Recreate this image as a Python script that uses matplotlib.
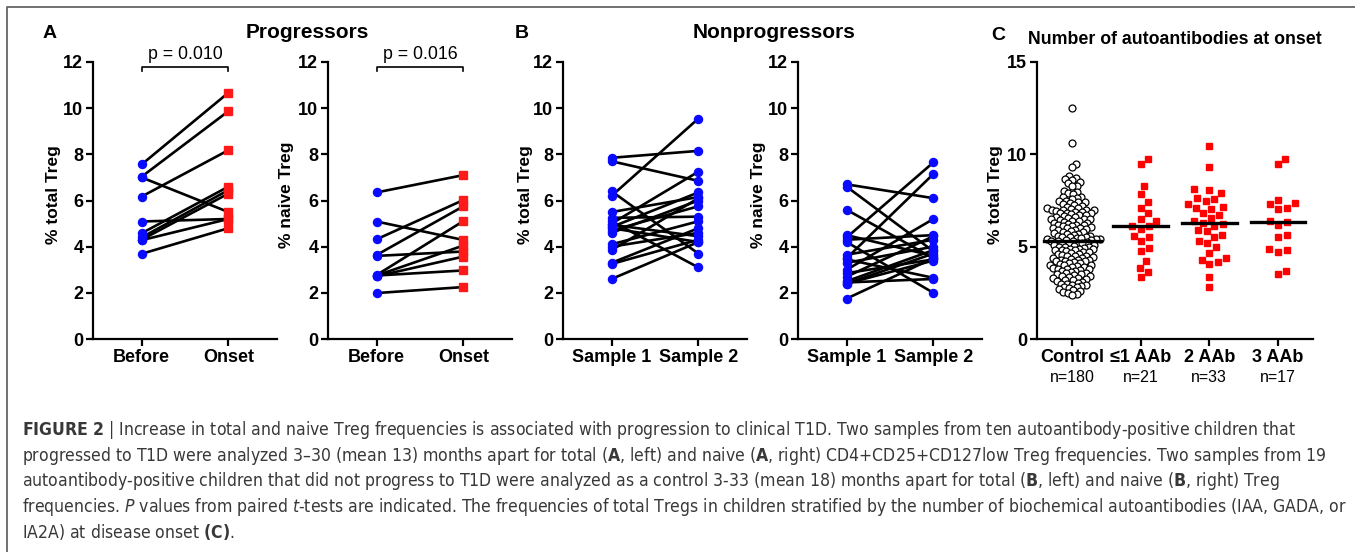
import numpy as np
import matplotlib
matplotlib.use('Agg')
from matplotlib import pyplot as plt
from matplotlib import font_manager

plt.rcParams['font.family'] = ['Liberation Sans', 'DejaVu Sans']

#Caption font: use a condensed face if one is installed
capFamily, capStretch = 'Liberation Sans', 'normal'
for f in font_manager.fontManager.ttflist:
    if f.name == 'Liberation Sans Narrow':
        capFamily, capStretch = 'Liberation Sans Narrow', 'normal'
        break
    if f.name == 'DejaVu Sans' and str(f.stretch) in ('condensed', 'semi-condensed'):
        capFamily, capStretch = 'DejaVu Sans', 'condensed'
pat = capFamily + ('' if capStretch == 'normal' else ':stretch=condensed')
plt.rcParams['mathtext.fontset'] = 'custom'
plt.rcParams['mathtext.rm'] = pat
plt.rcParams['mathtext.bf'] = pat + ':bold'
plt.rcParams['mathtext.it'] = pat + ':italic'

#Panel A data (progressors)
prog_labels = ['Before', 'Onset']
prog_total_before = [7.56, 7.03, 7.0, 6.17, 5.09, 4.58, 4.4, 4.3, 4.28, 3.69]
prog_total_onset = [10.67, 9.87, 5.5, 8.18, 5.2, 6.6, 6.45, 6.3, 5.2, 4.8]
prog_naive_before = [6.35, 5.09, 4.32, 3.64, 3.6, 2.77, 2.75, 2.72, 2.75, 1.99]
prog_naive_onset = [7.1, 4.29, 6.02, 5.75, 3.79, 5.11, 4.05, 3.57, 2.97, 2.25]
p_total = 'p = 0.010'
p_naive = 'p = 0.016'

#Panel B data (nonprogressors)
nonprog_labels = ['Sample 1', 'Sample 2']
nonprog_total_s1 = [7.85, 7.7, 6.4, 6.2, 5.5, 5.25, 5.1, 5.0, 4.95, 4.85, 4.8, 4.7, 4.6, 4.1, 4.0, 3.85, 3.3, 3.25, 2.6]
nonprog_total_s2 = [8.15, 6.85, 3.7, 9.55, 6.15, 5.3, 3.1, 7.25, 4.45, 6.35, 4.2, 5.75, 6.0, 5.1, 4.6, 6.1, 4.8, 4.3, 4.2]
nonprog_naive_s1 = [6.7, 6.6, 5.6, 4.5, 4.4, 4.3, 4.2, 3.65, 3.5, 3.45, 3.3, 3.0, 2.85, 2.7, 2.5, 2.45, 2.4, 2.4, 1.75]
nonprog_naive_s2 = [6.1, 3.8, 3.5, 3.6, 7.65, 4.5, 2.0, 4.3, 7.15, 2.65, 4.0, 5.2, 3.45, 4.45, 3.85, 2.6, 3.7, 3.4, 3.5]

#Panel C data (autoantibodies at onset)
aab_labels = ['Control', '\u22641 AAb', '2 AAb', '3 AAb']
aab_n = ['n=180', 'n=21', 'n=33', 'n=17']
control = [12.5, 10.6, 9.45, 9.3, 8.8, 8.7, 8.65, 8.6, 8.5, 8.45, 8.3, 8.3, 8.0, 7.95, 7.9, 7.85, 7.7, 7.7, 7.65, 7.6,
           7.5, 7.45, 7.4, 7.4, 7.35, 7.3, 7.25, 7.2, 7.15, 7.1, 7.1, 7.05, 7.0, 7.0, 7.0, 7.0,
           6.95, 6.9, 6.9, 6.85, 6.8, 6.8, 6.75, 6.7, 6.7, 6.65, 6.6, 6.6, 6.55, 6.5, 6.5, 6.5,
           6.45, 6.4, 6.4, 6.35, 6.3, 6.3, 6.25, 6.2, 6.2, 6.15, 6.1, 6.1, 6.05, 6.0, 6.0, 6.0,
           5.95, 5.9, 5.9, 5.85, 5.8, 5.8, 5.75, 5.7, 5.7, 5.65, 5.6, 5.6, 5.55, 5.5, 5.5,
           5.45, 5.45, 5.4, 5.4, 5.4, 5.35, 5.35,
           5.3, 5.3, 5.3, 5.25, 5.2, 5.2, 5.2, 5.15, 5.1, 5.1, 5.05, 5.0, 5.0, 5.0,
           4.95, 4.9, 4.9, 4.85, 4.8, 4.8, 4.8, 4.75, 4.7, 4.7, 4.65, 4.6, 4.6, 4.55, 4.5, 4.5, 4.5,
           4.45, 4.4, 4.4, 4.35, 4.3, 4.3, 4.3, 4.25, 4.2, 4.2, 4.15, 4.1, 4.1, 4.05, 4.0, 4.0, 4.0,
           3.95, 3.9, 3.9, 3.85, 3.8, 3.8, 3.8, 3.75, 3.7, 3.7, 3.65, 3.6, 3.55, 3.5, 3.5,
           3.45, 3.4, 3.4, 3.35, 3.3, 3.3, 3.25, 3.2, 3.2, 3.15, 3.1, 3.05, 3.0, 3.0,
           2.95, 2.9, 2.85, 2.8, 2.8, 2.75, 2.7, 2.65, 2.6, 2.55, 2.5, 2.45, 2.4]
aab_1 = [9.75, 9.45, 8.3, 7.85, 7.4, 7.1, 6.8, 6.5, 6.4, 6.1, 6.1, 5.95, 5.6, 5.5, 5.3, 4.95, 4.75, 4.2, 3.85, 3.65, 3.35]
aab_2 = [10.45, 9.3, 8.1, 8.05, 7.9, 7.65, 7.6, 7.45, 7.3, 7.15, 7.1, 7.05, 6.8, 6.7, 6.55, 6.4, 6.3, 6.25, 6.1,
         5.9, 5.85, 5.65, 5.55, 5.3, 5.2, 5.0, 4.65, 4.4, 4.3, 4.15, 4.05, 3.35, 2.8]
aab_3 = [9.75, 9.45, 7.55, 7.35, 7.3, 7.1, 7.05, 6.4, 6.35, 6.2, 5.65, 5.55, 4.85, 4.8, 4.7, 3.7, 3.5]

caption = [
    r'$\mathbf{FIGURE\ 2}$ | Increase in total and naive Treg frequencies is associated with progression to clinical T1D. Two samples from ten autoantibody-positive children that',
    r'progressed to T1D were analyzed 3–30 (mean 13) months apart for total ($\mathbf{A}$, left) and naive ($\mathbf{A}$, right) CD4+CD25+CD127low Treg frequencies. Two samples from 19',
    r'autoantibody-positive children that did not progress to T1D were analyzed as a control 3-33 (mean 18) months apart for total ($\mathbf{B}$, left) and naive ($\mathbf{B}$, right) Treg',
    r'frequencies. $\mathit{P}$ values from paired $\mathit{t}$-tests are indicated. The frequencies of total Tregs in children stratified by the number of biochemical autoantibodies (IAA, GADA, or',
    r'IA2A) at disease onset $\mathbf{(C)}$.',
]

W, H = 1355, 552
fig = plt.figure(figsize=(W/100, H/100), dpi=100)
TICK = 13

def px_axes(l, r, top, bottom):
    return fig.add_axes([l/W, 1-bottom/H, (r-l)/W, (bottom-top)/H])

def style(ax, ymax, ystep, ylabel, label_x):
    for s in ['top', 'right']:
        ax.spines[s].set_visible(False)
    for s in ['left', 'bottom']:
        ax.spines[s].set_linewidth(1.6)
    ax.set_ylim(0, ymax)
    ax.set_yticks(np.arange(0, ymax+0.1, ystep))
    ax.tick_params(direction='out', length=5, width=1.6, labelsize=TICK, pad=2)
    for t in ax.get_xticklabels() + ax.get_yticklabels():
        t.set_fontweight('bold')
    ax.set_ylabel(ylabel, fontsize=12.5, fontweight='bold')
    ax.yaxis.set_label_coords(label_x, 0.52)

def paired(ax, a, b, labels, end_marker, end_color):
    for y0, y1 in zip(a, b):
        ax.plot([0, 1], [y0, y1], color='black', lw=1.9, zorder=2, solid_capstyle='round')
    ax.plot(np.zeros(len(a)), a, 'o', color='#0a0aff', ms=5.8, zorder=3)
    ax.plot(np.ones(len(b)), b, end_marker, color=end_color, ms=6.0 if end_marker == 's' else 5.8, zorder=3)
    ax.set_xlim(-0.56, 1.56)
    ax.set_xticks([0, 1])
    ax.set_xticklabels(labels)

def bracket(ax, text):
    ax.plot([0, 0, 1, 1], [11.6, 11.8, 11.8, 11.6], color='black', lw=1.2, clip_on=False)
    ax.text(0.5, 11.95, text, ha='center', va='bottom', fontsize=12.8)

#A left
ax1 = px_axes(93, 277, 62, 339)
paired(ax1, prog_total_before, prog_total_onset, prog_labels, 's', '#ff1a1a')
bracket(ax1, p_total)
style(ax1, 12, 2, '% total Treg', (61-93)/184)

#A right
ax2 = px_axes(328, 512, 62, 339)
paired(ax2, prog_naive_before, prog_naive_onset, prog_labels, 's', '#ff1a1a')
bracket(ax2, p_naive)
style(ax2, 12, 2, '% naive Treg', (294-328)/184)

#B left
ax3 = px_axes(563, 747, 62, 339)
paired(ax3, nonprog_total_s1, nonprog_total_s2, nonprog_labels, 'o', '#0a0aff')
style(ax3, 12, 2, '% total Treg', (533-563)/184)

#B right
ax4 = px_axes(798, 982, 62, 339)
paired(ax4, nonprog_naive_s1, nonprog_naive_s2, nonprog_labels, 'o', '#0a0aff')
style(ax4, 12, 2, '% naive Treg', (766-798)/184)

#C swarm
def swarm(vals, d):
    xs = np.zeros(len(vals))
    placed = []
    for i in np.argsort(vals):
        y = vals[i]
        near = [(px, py) for px, py in placed if abs(py - y) < d]
        cands = [0.0]
        for px, py in near:
            dx = np.sqrt(d*d - (py-y)**2)
            cands += [px+dx, px-dx]
        cands.sort(key=abs)
        for c in cands:
            if all((c-px)**2 + (y-py)**2 >= d*d - 1e-6 for px, py in near):
                xs[i] = c
                break
        placed.append((xs[i], y))
    return xs

ax5 = px_axes(1037, 1313, 62, 339)
ypx = 277/15.0   # pixels per unit on y
xpx = 68.7       # pixels per category
groups = [control, aab_1, aab_2, aab_3]
for k, g in enumerate(groups):
    g = np.array(g)
    if k == 0:
        off = swarm(g*ypx, 4.7) / xpx
        ax5.plot(k + off, g, 'o', mfc='white', mec='black', mew=0.9, ms=5.0, zorder=3)
        hw = 0.415
    else:
        off = swarm(g*ypx, 9.0) / xpx
        ax5.plot(k + off, g, 's', color='#ff0000', ms=4.3, zorder=3)
        hw = 0.40
    ax5.plot([k-hw, k+hw], [np.median(g)]*2, color='black', lw=2.4, zorder=4)
ax5.set_xlim(-0.51, 3.51)
ax5.set_xticks(range(4))
ax5.set_xticklabels(aab_labels)
style(ax5, 15, 5, '% total Treg', (1003-1037)/276)
for k, n in enumerate(aab_n):
    ax5.text(k, -39/277, n, transform=ax5.get_xaxis_transform(), ha='center', va='center', fontsize=11.5)

#Titles and panel letters
fig.text(50/W, 1-33/H, 'A', ha='center', va='center', fontsize=14, fontweight='bold')
fig.text(522/W, 1-33/H, 'B', ha='center', va='center', fontsize=14, fontweight='bold')
fig.text(998/W, 1-35/H, 'C', ha='center', va='center', fontsize=14, fontweight='bold')
fig.text(307/W, 1-32/H, 'Progressors', ha='center', va='center', fontsize=15, fontweight='bold')
fig.text(774/W, 1-32/H, 'Nonprogressors', ha='center', va='center', fontsize=15, fontweight='bold')
fig.text(1175/W, 1-40/H, 'Number of autoantibodies at onset', ha='center', va='center', fontsize=12.8, fontweight='bold')

#Caption, size fitted so the first line spans the same width as the reference
cap_y = [430, 456, 481, 507, 532]
renderer = fig.canvas.get_renderer()
probe = fig.text(0, 0, caption[0], fontsize=10, family=capFamily, stretch=capStretch)
cap_size = 10 * 1271 / probe.get_window_extent(renderer).width
probe.remove()
for line, y in zip(caption, cap_y):
    fig.text(22/W, 1-y/H, line, ha='left', va='center', fontsize=cap_size, family=capFamily,
             stretch=capStretch, color='#383838')

#Frame
fig.add_artist(plt.Line2D([7/W, 7/W, 1], [0, 1-7/H, 1-7/H], color='#666666', lw=1.3))

fig.savefig('out.png', dpi=100)
